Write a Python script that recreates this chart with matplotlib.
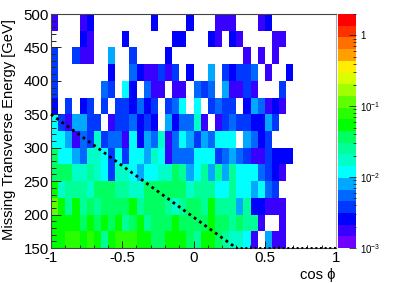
import numpy as np
import matplotlib
matplotlib.use('Agg')
import matplotlib.pyplot as plt
from matplotlib.colors import ListedColormap, LogNorm
from matplotlib.ticker import FixedLocator, FixedFormatter

plt.rcParams['font.family'] = ['Liberation Sans', 'DejaVu Sans']

# bin edges
cos_edges = np.linspace(-1, 1, 41)
met_edges = np.linspace(150, 500, 15)

# cell contents in units of 1e-4, 0 = empty, first row is 150-175 GeV
row_150 = [530,530,780,780,650,780,530,300,530,780,780,780,530,530,360,360,530,530,650,360,300,650,530,360,300,200,170,115,18,0,79,18,18,0,0,0,0,0,0,0]
row_175 = [530,530,530,530,360,530,360,530,360,530,250,360,530,250,360,360,360,650,400,360,360,360,530,360,360,250,360,250,250,18,0,0,18,0,0,0,0,0,0,0]
row_200 = [1100,530,250,530,250,360,250,360,360,360,360,530,250,360,360,360,250,170,250,360,360,250,530,250,250,250,79,250,25,25,18,18,18,0,0,0,0,0,0,0]
row_225 = [530,170,250,250,250,170,360,360,360,300,250,170,170,360,360,360,360,360,360,200,250,250,250,140,115,250,115,115,79,115,54,37,0,0,0,0,0,0,0,0]
row_250 = [360,360,360,200,200,300,170,115,37,170,200,115,79,115,115,170,170,360,250,79,115,250,79,250,79,250,115,115,115,65,37,25,18,0,0,0,0,0,0,0]
row_275 = [360,115,115,79,65,170,170,115,37,115,37,115,115,79,170,115,18,54,54,54,115,115,115,37,54,79,54,37,18,18,37,25,25,25,0,0,0,0,0,0]
row_300 = [115,115,79,18,54,37,170,37,54,54,18,115,25,79,54,170,18,65,115,79,37,79,65,115,115,115,0,79,54,25,37,0,0,0,0,0,0,0,0,0]
row_325 = [140,37,18,79,79,37,37,0,18,37,37,54,25,37,25,0,79,25,54,54,170,18,0,18,37,65,37,37,30,25,79,45,0,0,0,0,0,0,0,0]
row_350 = [25,0,37,0,25,37,0,37,0,37,37,25,54,25,37,0,37,65,115,0,115,0,37,65,45,37,0,25,79,54,18,25,18,0,0,0,0,0,0,0]
row_375 = [37,0,0,0,0,0,0,54,37,0,115,25,0,54,18,18,0,18,18,0,65,37,65,0,79,18,18,37,18,0,0,0,37,0,0,0,0,0,0,0]
row_400 = [37,0,0,0,0,0,0,0,25,0,0,65,25,18,18,37,18,37,0,25,0,0,79,0,37,25,37,37,65,0,18,0,0,25,0,0,0,0,0,0]
row_425 = [37,0,0,45,18,18,0,0,79,0,0,37,0,0,0,0,25,0,0,0,0,0,0,0,0,0,0,18,0,18,0,18,0,0,0,0,0,0,0,0]
row_450 = [0,0,0,0,25,18,0,0,0,0,25,0,0,0,0,0,0,25,25,0,0,0,25,18,0,25,18,0,0,0,0,18,18,0,0,0,0,0,0,0]
row_475 = [18,0,0,0,18,25,0,0,0,0,0,0,0,0,25,0,0,0,0,25,0,0,0,18,18,18,0,0,0,18,25,0,0,0,0,0,0,0,0,0]

rows = [row_150, row_175, row_200, row_225, row_250, row_275, row_300,
        row_325, row_350, row_375, row_400, row_425, row_450, row_475]

# black dotted selection line
cut_diag_x = [-1, 0.3]
cut_diag_y = [350, 150]
cut_flat_x = [0.3, 1]
cut_flat_y = [150, 150]

palette = ['#7000ff', '#3800ff', '#0000ff', '#0038ff', '#0068ff', '#00a8ff', '#00ffff',
           '#00ffc8', '#00ff98', '#00ff60', '#00ff00', '#28ff00', '#60ff00', '#a0ff00',
           '#d8ff00', '#ffee00', '#ffa000', '#ff7000', '#ff3000', '#ff0000']

W, H = 395, 283
fig = plt.figure(figsize=(W / 100, H / 100), dpi=100)
ax = fig.add_axes([51 / W, 1 - 248 / H, 285 / W, 234 / H])
cax = fig.add_axes([338 / W, 1 - 248 / H, 18 / W, 234 / H])

z = np.ma.masked_equal(np.array(rows, dtype=float), 0) * 1e-4
cmap = ListedColormap(palette)
norm = LogNorm(vmin=1e-3, vmax=2)
mesh = ax.pcolormesh(cos_edges, met_edges, z, cmap=cmap, norm=norm, linewidth=0, antialiased=False)

ax.plot(cut_diag_x, cut_diag_y, color='black', linestyle=(0, (1.0, 1.35)), linewidth=2, clip_on=False, zorder=5)
ax.plot(cut_flat_x, cut_flat_y, color='black', linestyle=(0, (1.0, 1.4)), linewidth=1.4, clip_on=False, zorder=5)

ax.set_xlim(-1, 1)
ax.set_ylim(150, 500)
ax.set_xticks([-1, -0.5, 0, 0.5, 1])
ax.set_xticklabels(['-1', '-0.5', '0', '0.5', '1'])
ax.set_xticks(np.arange(-1, 1.01, 0.1), minor=True)
ax.set_yticks(np.arange(150, 501, 50))
ax.set_yticks(np.arange(150, 501, 10), minor=True)
ax.tick_params(axis='both', which='both', direction='in', color='#222222')
ax.tick_params(axis='x', which='major', length=5, width=0.7, labelsize=10.8, pad=2)
ax.tick_params(axis='x', which='minor', length=2.5, width=0.7)
ax.tick_params(axis='y', which='major', length=7, width=0.7, labelsize=10.8, pad=1.5)
ax.tick_params(axis='y', which='minor', length=3.5, width=0.7)
for s in ax.spines.values():
    s.set_linewidth(0.8)
    s.set_color('#444444')
ax.spines['right'].set_color('#aaaaaa')

fig.text(9 / W, 1 - 130 / H, 'Missing Transverse Energy [GeV]', rotation=90,
         fontsize=10.6, ha='center', va='center')
ax.set_xlabel('cos \u03d5', fontsize=10.6, ha='right')
ax.xaxis.set_label_coords(1, -20 / 234)

cb = fig.colorbar(mesh, cax=cax)
cb.outline.set_visible(False)
cb.ax.yaxis.set_major_locator(FixedLocator([1e-3, 1e-2, 1e-1, 1]))
cb.ax.yaxis.set_major_formatter(FixedFormatter(['$\\mathregular{10^{-3}}$', '$\\mathregular{10^{-2}}$', '$\\mathregular{10^{-1}}$', '1']))
minor = [m * 10.0**e for e in [-3, -2, -1, 0] for m in range(2, 10) if m * 10.0**e <= 2]
cb.ax.yaxis.set_minor_locator(FixedLocator(minor))
cb.ax.tick_params(which='major', direction='in', length=5, width=0.6, color='#222222', labelsize=7, pad=3)
cb.ax.tick_params(which='minor', direction='in', length=2.5, width=0.6, color='#222222')

fig.savefig('out.png', dpi=100)
